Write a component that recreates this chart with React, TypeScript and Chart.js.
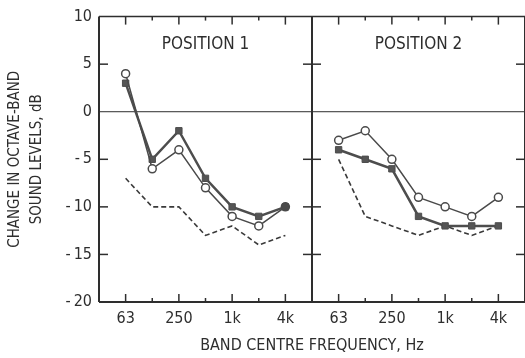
import { useEffect, useRef } from 'react';
import { Chart, registerables } from 'chart.js';

Chart.register(...registerables);

// ---- data ----
const bands = ['63', '125', '250', '500', '1k', '2k', '4k'];
const labelledBands = ['63', '250', '1k', '4k'];
const yTickValues = [10, 5, 0, -5, -10, -15, -20];
const yInnerTicks = [5, -5, -10, -15];
const panelTitles = ['POSITION 1', 'POSITION 2'];

const pos1Open = [4, -6, -4, -8, -11, -12, -10];
const pos1Filled = [3, -5, -2, -7, -10, -11, -10];
const pos1Dashed = [-7, -10, -10, -13, -12, -14, -13];

const pos2Open = [-3, -2, -5, -9, -10, -11, -9];
const pos2Filled = [-4, -5, -6, -11, -12, -12, -12];
const pos2Dashed = [-5, -11, -12, -13, -12, -13, -12];

const PANEL_STEP = bands.length + 1; // one empty slot between panels
const panelOffsets = [0, PANEL_STEP];

const FONT = '"DejaVu Sans Condensed", "Liberation Sans Narrow", "DejaVu Sans", sans-serif';
const INK = '#2e2e2e';
const LINE = '#4a4a4a';

const toPoints = (vals: number[], off: number) => vals.map((v, i) => ({ x: i + off, y: v }));

const openStyle = (vals: number[], off: number, lastFilled: boolean) => ({
  data: toPoints(vals, off),
  borderColor: LINE,
  borderWidth: 1.5,
  pointStyle: 'circle',
  pointRadius: 4,
  pointBorderWidth: 1.5,
  pointBorderColor: LINE,
  pointBackgroundColor: vals.map((_, i) => (lastFilled && i === vals.length - 1 ? LINE : '#ffffff')),
  fill: false,
  tension: 0,
});

const filledStyle = (vals: number[], off: number) => ({
  data: toPoints(vals, off),
  borderColor: '#4d4d4d',
  borderWidth: 2.5,
  pointStyle: 'rect',
  pointRadius: 4.5,
  pointBorderWidth: 1,
  pointBorderColor: '#4d4d4d',
  pointBackgroundColor: '#555555',
  fill: false,
  tension: 0,
});

const dashedStyle = (vals: number[], off: number) => ({
  data: toPoints(vals, off),
  borderColor: '#3a3a3a',
  borderWidth: 1.6,
  borderDash: [5, 3],
  pointRadius: 0,
  fill: false,
  tension: 0,
});

const framePlugin = {
  id: 'frame',
  beforeDatasetsDraw(chart: any) {
    const { ctx, chartArea: a, scales } = chart;
    const x = scales.x;
    const y = scales.y;
    const seg = (x1: number, y1: number, x2: number, y2: number, w: number) => {
      ctx.lineWidth = w;
      ctx.beginPath();
      ctx.moveTo(x1, y1);
      ctx.lineTo(x2, y2);
      ctx.stroke();
    };
    ctx.save();
    ctx.strokeStyle = INK;
    // zero line
    const y0 = y.getPixelForValue(0);
    seg(a.left, y0, a.right, y0, 1);
    // frame
    seg(a.left, a.top, a.right, a.top, 1.5);
    seg(a.left, a.bottom, a.right, a.bottom, 2);
    seg(a.left, a.top, a.left, a.bottom, 2);
    seg(a.right, a.top, a.right, a.bottom, 2);
    const xd = x.getPixelForValue(PANEL_STEP - 1);
    seg(xd, a.top, xd, a.bottom, 2);
    // y ticks
    yInnerTicks.forEach((v) => {
      const py = y.getPixelForValue(v);
      seg(a.left, py, a.left + 9, py, 1.5);
      seg(xd - 9, py, xd + 9, py, 1.5);
      seg(a.right - 9, py, a.right, py, 1.5);
    });
    // x ticks
    panelOffsets.forEach((off) => {
      bands.forEach((b, i) => {
        const px = x.getPixelForValue(off + i);
        const len = labelledBands.includes(b) ? 8 : 4;
        seg(px, a.top, px, a.top + len, 1.5);
        seg(px, a.bottom - len, px, a.bottom, 1.5);
      });
    });
    // panel titles
    ctx.fillStyle = INK;
    ctx.font = `17px ${FONT}`;
    ctx.textAlign = 'center';
    ctx.textBaseline = 'middle';
    panelTitles.forEach((t, k) => {
      ctx.fillText(t, x.getPixelForValue(panelOffsets[k] + (bands.length - 1) / 2), a.top + 28);
    });
    ctx.restore();
  },
};

export default function App() {
  const ref = useRef<HTMLCanvasElement | null>(null);
  useEffect(() => {
    if (!ref.current) return;
    const chart = new Chart(ref.current, {
      type: 'line',
      data: {
        datasets: [
          openStyle(pos1Open, panelOffsets[0], true),
          filledStyle(pos1Filled, panelOffsets[0]),
          dashedStyle(pos1Dashed, panelOffsets[0]),
          openStyle(pos2Open, panelOffsets[1], false),
          filledStyle(pos2Filled, panelOffsets[1]),
          dashedStyle(pos2Dashed, panelOffsets[1]),
        ] as any,
      },
      options: {
        animation: false,
        responsive: false,
        layout: { autoPadding: false, padding: { top: 13, left: 0, right: 0, bottom: 0 } },
        plugins: { legend: { display: false }, tooltip: { enabled: false } },
        scales: {
          x: {
            type: 'linear',
            min: -1,
            max: 2 * PANEL_STEP - 1,
            grid: { display: false, drawTicks: false },
            border: { display: false },
            afterBuildTicks: (scale: any) => {
              const t: any[] = [];
              panelOffsets.forEach((off) =>
                bands.forEach((b, i) => {
                  if (labelledBands.includes(b)) t.push({ value: off + i });
                })
              );
              scale.ticks = t;
            },
            afterFit: (scale: any) => {
              scale.height = 56;
              scale.paddingLeft = 0;
              scale.paddingRight = 0;
            },
            ticks: {
              autoSkip: false,
              maxRotation: 0,
              padding: 7,
              color: INK,
              font: { family: FONT, size: 16 },
              callback: (v: any) => bands[Number(v) % PANEL_STEP],
            },
            title: {
              display: true,
              text: 'BAND CENTRE FREQUENCY, Hz',
              color: INK,
              font: { family: FONT, size: 16 },
              padding: { top: 0, bottom: 3 },
            },
          },
          y: {
            type: 'linear',
            min: -20,
            max: 10,
            grid: { display: false, drawTicks: false },
            border: { display: false },
            afterBuildTicks: (scale: any) => {
              scale.ticks = yTickValues.map((v) => ({ value: v }));
            },
            afterFit: (scale: any) => {
              scale.width = 99;
            },
            ticks: {
              padding: 7,
              color: INK,
              font: { family: FONT, size: 16 },
              callback: (v: any) => (Number(v) < 0 ? '-\u2009' + Math.abs(Number(v)) : String(v)),
            },
            title: {
              display: true,
              text: ['CHANGE IN OCTAVE-BAND', 'SOUND LEVELS, dB'],
              color: INK,
              font: { family: FONT, size: 15, lineHeight: 1.45 },
              padding: { top: 4, bottom: 0 },
            },
          },
        },
      } as any,
      plugins: [framePlugin],
    });
    return () => chart.destroy();
  }, []);
  return (
    <canvas
      ref={ref}
      width={525}
      height={358}
      style={{ position: 'absolute', left: 0, top: 0, width: 525, height: 358, background: '#fff' }}
    />
  );
}
